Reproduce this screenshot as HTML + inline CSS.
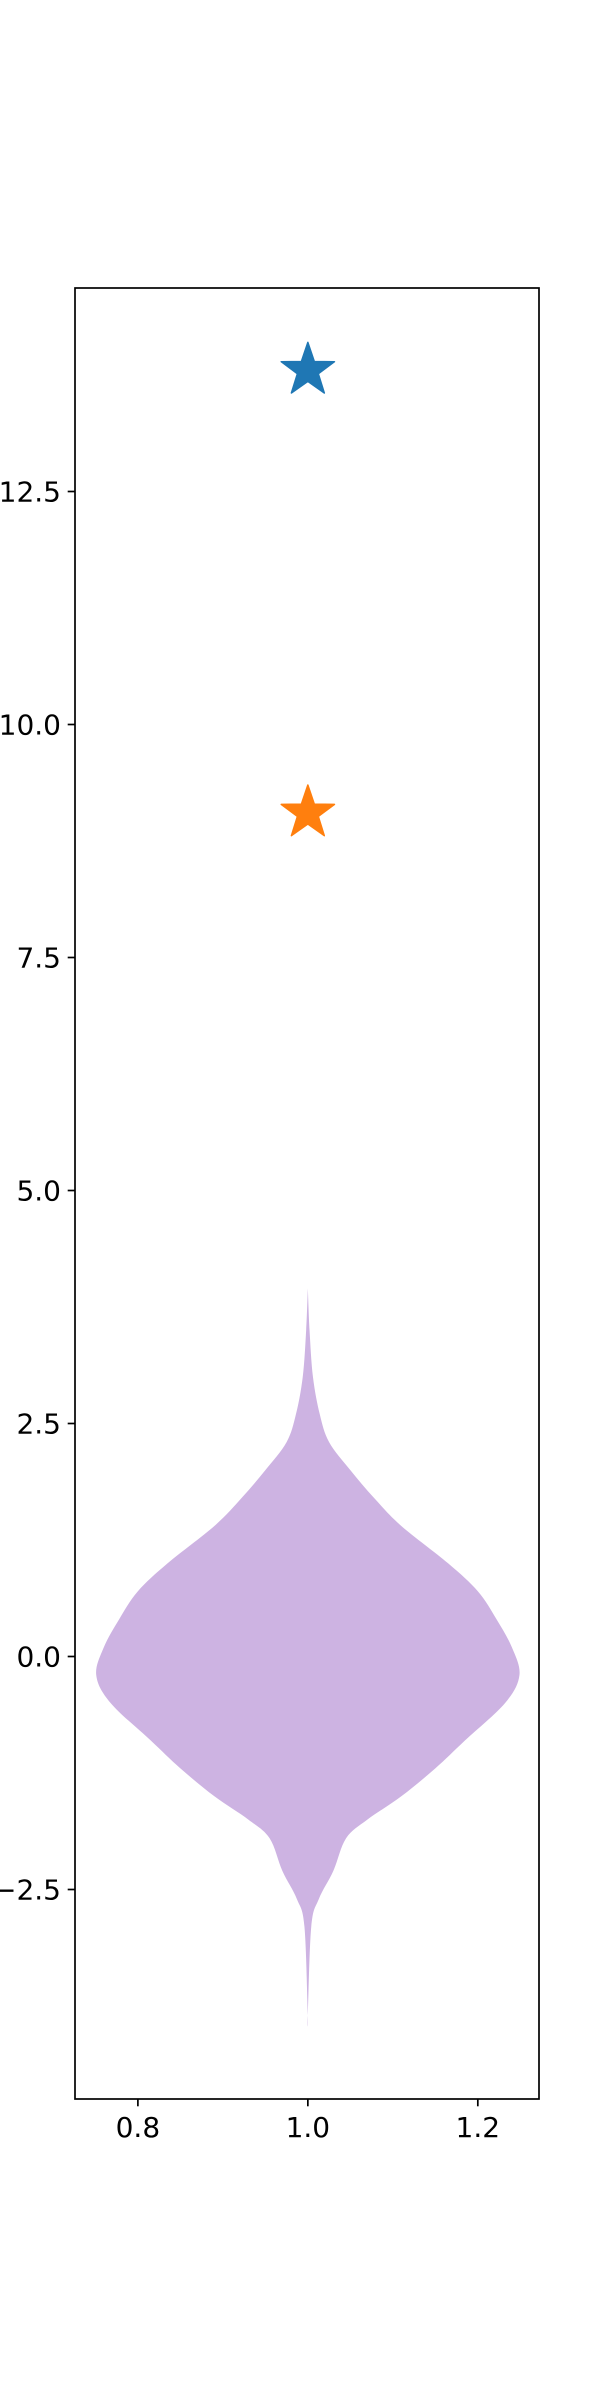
<!DOCTYPE html>
<html><head><meta charset="utf-8"><style>
body{margin:0;background:#fff}
svg{display:block}
text{font-family:"DejaVu Sans","Liberation Sans",sans-serif;font-size:28px;fill:#000}
</style></head><body>
<svg id="chart" width="600" height="2400" viewBox="0 0 600 2400" xmlns="http://www.w3.org/2000/svg">
<rect width="600" height="2400" fill="#fff"/>
<g id="plot"></g>
</svg>
<script>
const yTicks=[-2.5,0.0,2.5,5.0,7.5,10.0,12.5];
const xTicks=[0.8,1.0,1.2];
const violinY=[3.95,3.5,3.0,2.6,2.3,2.0,1.7,1.4,1.0,0.7,0.4,0.1,-0.2,-0.5,-0.9,-1.2,-1.5,-1.75,-1.95,-2.3,-2.6,-2.9,-3.85];
const violinHalfWidth=[0,0.002,0.006,0.014,0.025,0.05,0.078,0.11,0.165,0.2,0.222,0.24,0.249,0.232,0.185,0.15,0.11,0.07,0.045,0.03,0.013,0.004,0];
const starY=[13.8,9.05];
const starColors=['#1f77b4','#ff7f0e'];
const starX=[1,1];

const L=75,R=539,T=288,B=2099;
const x0=0.726,x1=1.272;
const y0=(1656.5-B)/93.2, y1=(1656.5-T)/93.2;
const sx=v=>L+(v-x0)/(x1-x0)*(R-L);
const sy=v=>B-(v-y0)/(y1-y0)*(B-T);
const g=document.getElementById('plot');
const NS='http://www.w3.org/2000/svg';
function mk(t,a){const e=document.createElementNS(NS,t);for(const k in a)e.setAttribute(k,a[k]);g.appendChild(e);return e;}

let pts=[];
for(let i=0;i<violinY.length;i++)pts.push([sx(1+violinHalfWidth[i]),sy(violinY[i])]);
for(let i=violinY.length-1;i>=0;i--)pts.push([sx(1-violinHalfWidth[i]),sy(violinY[i])]);
function smooth(p){let d='M'+p[0][0]+','+p[0][1];for(let i=0;i<p.length-1;i++){const a=p[Math.max(i-1,0)],b=p[i],c=p[i+1],e=p[Math.min(i+2,p.length-1)];d+=' C'+(b[0]+(c[0]-a[0])/6)+','+(b[1]+(c[1]-a[1])/6)+' '+(c[0]-(e[0]-b[0])/6)+','+(c[1]-(e[1]-b[1])/6)+' '+c[0]+','+c[1];}return d+'Z';}
const v=mk('path',{d:smooth(pts),fill:'#cdb3e2'});



for(let i=0;i<starY.length;i++){
  const cx=sx(starX[i]),cy=sy(starY[i]),ro=28,ri=11;let d='';
  for(let k=0;k<10;k++){const r=k%2?ri:ro,a=-Math.PI/2+k*Math.PI/5;d+=(k?'L':'M')+(cx+r*Math.cos(a))+','+(cy+r*Math.sin(a));}
  const s=mk('path',{d:d+'Z',fill:starColors[i],stroke:starColors[i],'stroke-width':1.5,'stroke-linejoin':'round'});
  
  
}

const fr=mk('rect',{x:L,y:T,width:R-L,height:B-T,fill:'none',stroke:'#000','stroke-width':1.7});



yTicks.forEach(t=>{
  const y=sy(t);
  const l=mk('line',{x1:L-7.3,x2:L,y1:y,y2:y,stroke:'#000','stroke-width':1.7});
  
  
  const tx=mk('text',{x:L-14,y:y+10,'text-anchor':'end'});tx.textContent=t.toFixed(1).replace('-','\u2212');
  
  
});
xTicks.forEach(t=>{
  const x=sx(t);
  const l=mk('line',{x1:x,x2:x,y1:B,y2:B+7.3,stroke:'#000','stroke-width':1.7});
  
  
  const tx=mk('text',{x:x,y:B+38,'text-anchor':'middle'});tx.textContent=t.toFixed(1);
  
  
});
</script>
</body></html>
